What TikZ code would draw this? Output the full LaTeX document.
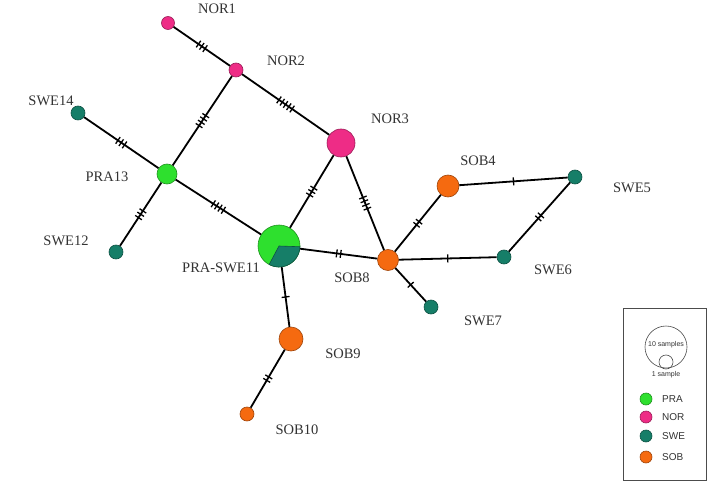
\documentclass[tikz,border=0pt]{standalone}
\usepackage{fontspec}
\setmainfont{Liberation Serif}
\newfontfamily\legendfont{Liberation Sans}
\usetikzlibrary{decorations.markings}
\definecolor{pra}{HTML}{2EE02E}
\definecolor{nor}{HTML}{EE2C86}
\definecolor{swe}{HTML}{167E68}
\definecolor{sob}{HTML}{F56A10}

\begin{document}
\begin{tikzpicture}[x=1pt, y=1pt, every node/.style={font=\fontsize{14.5}{16}\selectfont},
  hap/.style n args={2}{circle, draw=#1!65!black, fill=#1, line width=0.6pt, minimum size=#2, inner sep=0pt},
  lbl/.style={text=black!80, inner sep=0pt},
  key/.style={text=black!80, anchor=west, inner sep=0pt, font=\legendfont\fontsize{10}{12}\selectfont},
  link/.style={line width=1.8pt},
  mut/.style={postaction={decorate, decoration={markings, mark=at position 0.5 with {\foreach \k in {1,...,#1}{\draw[line width=1.3pt] ({(\k-(#1+1)/2)*4pt},-4pt) -- ++(0,8pt);}}}}}]
\useasboundingbox[fill=white] (0,0) rectangle (709,-484);

% haplotypes
\node[hap={nor}{13pt}] (nor1) at (168,-23) {};
\node[hap={nor}{14pt}] (nor2) at (236,-70) {};
\node[hap={nor}{28pt}] (nor3) at (341,-143) {};
\node[hap={swe}{14pt}] (swe14) at (78,-113) {};
\node[hap={pra}{20pt}] (pra13) at (167,-174) {};
\node[hap={swe}{14pt}] (swe12) at (116,-252) {};
\node[hap={pra}{42pt}] (mix11) at (279,-246) {};
\node[hap={sob}{22pt}] (sob4) at (448,-186) {};
\node[hap={swe}{14pt}] (swe5) at (575,-177) {};
\node[hap={swe}{14pt}] (swe6) at (504,-257) {};
\node[hap={sob}{21pt}] (sob8) at (388,-260) {};
\node[hap={swe}{14pt}] (swe7) at (431,-307) {};
\node[hap={sob}{24pt}] (sob9) at (291,-339) {};
\node[hap={sob}{14pt}] (sob10) at (247,-414) {};
\filldraw[fill=swe, draw=swe!65!black, line width=0.6pt] (mix11.center) -- ([shift={(-2:21pt)}]mix11.center) arc[start angle=-2, end angle=-118, radius=21pt] -- cycle;

% labels
\node[lbl] (t-nor1) at (217,-9) {NOR1};
\node[lbl] (t-nor2) at (286,-61) {NOR2};
\node[lbl] (t-nor3) at (390,-119) {NOR3};
\node[lbl] (t-swe14) at (51,-101) {SWE14};
\node[lbl] (t-pra13) at (107,-177) {PRA13};
\node[lbl] (t-swe12) at (66,-241) {SWE12};
\node[lbl] (t-mix11) at (221,-268) {PRA-SWE11};
\node[lbl] (t-sob4) at (478,-161) {SOB4};
\node[lbl] (t-swe5) at (632,-188) {SWE5};
\node[lbl] (t-swe6) at (553,-270) {SWE6};
\node[lbl] (t-sob8) at (352,-278) {SOB8};
\node[lbl] (t-swe7) at (483,-321) {SWE7};
\node[lbl] (t-sob9) at (343,-354) {SOB9};
\node[lbl] (t-sob10) at (297,-430) {SOB10};

% mutational steps
\draw[link, mut=3] (nor1) -- (nor2);
\draw[link, mut=5] (nor2) -- (nor3);
\draw[link, mut=4] (nor2) -- (pra13);
\draw[link, mut=3] (swe14) -- (pra13);
\draw[link, mut=3] (pra13) -- (swe12);
\draw[link, mut=4] (pra13) -- (mix11);
\draw[link, mut=3] (mix11) -- (nor3);
\draw[link, mut=4] (nor3) -- (sob8);
\draw[link, mut=2] (mix11) -- (sob8);
\draw[link, mut=2] (sob8) -- (sob4);
\draw[link, mut=1] (sob4) -- (swe5);
\draw[link, mut=2] (swe5) -- (swe6);
\draw[link, mut=1] (sob8) -- (swe6);
\draw[link, mut=1] (sob8) -- (swe7);
\draw[link, mut=1] (mix11) -- (sob9);
\draw[link, mut=2] (sob9) -- (sob10);

% legend
\draw[line width=0.6pt, black!70] (623,-308) rectangle (706,-480);
\node[circle, draw=black!70, line width=0.6pt, minimum size=42pt] (big) at (666,-347) {};
\node[circle, draw=black!70, line width=0.6pt, minimum size=14pt] (small) at (666,-362) {};
\node[text=black!80, inner sep=0pt, font=\legendfont\fontsize{7}{8}\selectfont] (t-big) at (666,-345) {10 samples};
\node[text=black!80, inner sep=0pt, font=\legendfont\fontsize{7}{8}\selectfont] (t-small) at (666,-375) {1 sample};
\node[hap={pra}{12pt}] (kpra) at (646,-399) {};
\node[hap={nor}{12pt}] (knor) at (646,-417) {};
\node[hap={swe}{12pt}] (kswe) at (646,-436) {};
\node[hap={sob}{12pt}] (ksob) at (646,-457) {};
\node[key] (t-kpra) at (662,-399) {PRA};
\node[key] (t-knor) at (662,-417) {NOR};
\node[key] (t-kswe) at (662,-436) {SWE};
\node[key] (t-ksob) at (662,-457) {SOB};
\end{tikzpicture}
\end{document}
